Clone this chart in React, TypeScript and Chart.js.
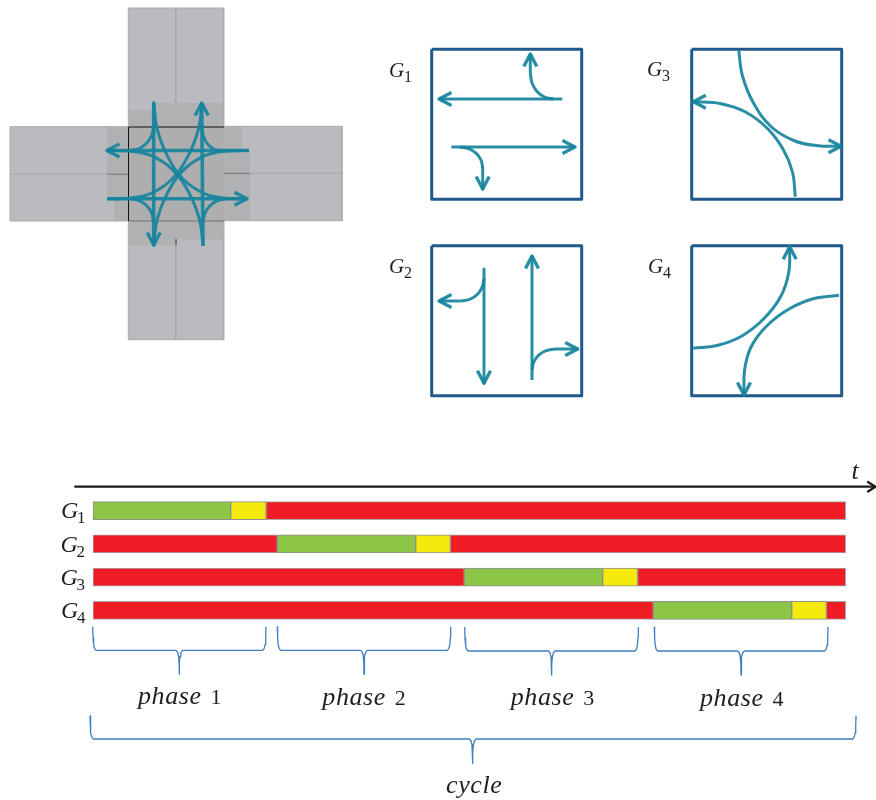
import React, { useEffect, useRef } from "react";
import { Chart, registerables } from "chart.js";

Chart.register(...registerables);

type P = [number, number];

// ---- junction layout (values on the 876 x 800 drawing scale) ----
const armRects: [number, number, number, number][] = [
  [128.3, 8, 223.7, 127],
  [128.3, 221, 223.7, 339.7],
  [10, 126.7, 128.5, 221],
  [224, 126.3, 342, 220.7],
];
const patchRects: [number, number, number, number][] = [
  [129, 110, 155, 127],
  [155, 103, 223, 127],
  [107, 127, 128.5, 198],
  [114, 198, 128.5, 221],
  [224, 127, 242, 153],
  [224, 153, 250, 220.7],
  [129, 221, 176, 245.5],
  [176, 221, 223.5, 239.5],
];
const centreRect: [number, number, number, number] = [128.5, 127, 224, 221];
const laneLines: P[][] = [
  [[175.8, 8], [175.8, 103]],
  [[175.8, 245], [175.8, 339.7]],
  [[10, 174.2], [107, 174.2]],
  [[250, 173.3], [342, 173.3]],
];
const darkMarks: P[][] = [
  [[107, 174.2], [128.5, 174.2]],
  [[224, 173.3], [250, 173.3]],
  [[176, 239], [176, 245]],
  [[128.5, 221], [224, 221]],
];
const blackEdges: P[][] = [
  [[128.5, 221], [128.5, 127], [224, 127]],
];

const junctionStraight: P[][] = [
  [[249, 150.5], [107, 150.5]],
  [[107, 198.7], [247, 198.7]],
  [[153.7, 103], [153.7, 245]],
  [[203, 246], [201.7, 103]],
];
const junctionTurns: P[][] = [
  [[220, 150.7], [213, 148.7], [207, 143.2], [203.1, 134.8], [201.7, 125]],
  [[130, 150.5], [139.1, 148.6], [146.8, 143], [151.9, 134.8], [153.7, 125]],
  [[130, 198.7], [139.1, 200.6], [146.8, 205.8], [151.9, 213.7], [153.7, 223]],
  [[203, 222.7], [204.8, 213.5], [209.9, 205.7], [217.6, 200.5], [226.7, 198.7]],
];
// sweeping curves: start (leaving vertically) and end (arriving horizontally)
const junctionSweeps: [P, P][] = [
  [[153.7, 103], [247, 198.7]],
  [[203, 245], [107, 150.5]],
  [[202, 103], [107, 198.7]],
  [[153.7, 245], [249, 150.5]],
];
const sweepAlongX = [0, 0.037, 0.145, 0.32, 0.55, 0.77, 1];
const sweepAlongY = [0, 0.27, 0.55, 0.8, 0.95, 0.994, 1];
const junctionHeads: [number, number, number, number][] = [
  [107, 150.5, -1, 0],
  [247, 198.7, 1, 0],
  [153.7, 245, 0, 1],
  [201.7, 103, 0, -1],
];

// ---- phase panels ----
const panelBoxes: [number, number, number, number][] = [
  [431.7, 49.3, 581.7, 199.3],
  [691.7, 49.3, 841.7, 199.3],
  [431.7, 245.7, 581.7, 395.7],
  [691.7, 245.7, 841.7, 395.7],
];
const panelStraight: P[][] = [
  [[562.3, 99], [439, 99]],
  [[451.3, 147], [575, 147]],
  [[530.3, 73], [530.3, 54]],
  [[482.7, 168], [482.7, 189]],
  [[484, 269], [484, 383.3]],
  [[532, 380], [532, 256]],
  [[461.7, 301], [439, 301]],
  [[555, 349], [577.7, 349]],
];
const panelTurns: P[][] = [
  [[553.3, 99], [544.5, 97], [537, 91.4], [532.05, 83], [530.3, 73]],
  [[460, 147], [468.7, 148.6], [476, 153.2], [481, 160], [482.7, 168]],
  [[484, 278], [482.3, 286.8], [477.5, 294.3], [470.2, 299.2], [461.7, 301]],
  [[532, 370], [533.8, 362], [538.7, 355.2], [546.2, 350.6], [555, 349]],
];
const panelSweeps: P[][] = [
  [[738.7, 50], [742.5, 76], [753.5, 103], [771.5, 127], [795, 141], [818, 145.7], [841, 146.3]],
  [[795.3, 196.7], [792.5, 172], [783.5, 150], [768, 129], [745.5, 112], [720, 103.5], [693.3, 101.7]],
  [[789.7, 246.7], [788.8, 272], [781, 296], [764, 318.5], [741, 336.5], [717, 345.5], [693.3, 348.3]],
  [[744, 395], [744.6, 370], [751, 347], [766.7, 326], [789, 309], [814, 298.5], [839, 295.3]],
];
const panelHeads: [number, number, number, number][] = [
  [439, 99, -1, 0],
  [575, 147, 1, 0],
  [530.3, 54, 0, -1],
  [482.7, 189, 0, 1],
  [484, 383.3, 0, 1],
  [532, 256, 0, -1],
  [439, 301, -1, 0],
  [577.7, 349, 1, 0],
  [841, 146.3, 1, 0],
  [693.3, 101.7, -1, 0],
  [789.7, 246.7, 0, -1],
  [744, 395, 0, 1],
];

// ---- time axis ----
const timeAxis: P[] = [[74.3, 486.7], [875, 486.7]];
const timeHead: P[] = [[867.3, 481.5], [875.5, 486.7], [867.3, 492]];

// ---- signal timeline ----
const signalGroups = ["G1", "G2", "G3", "G4"];
const greenSpans: [number, number][] = [[93, 230.7], [277.3, 415.7], [464.3, 602.7], [653.3, 791.7]];
const yellowSpans: [number, number][] = [[230.7, 266], [415.7, 450.3], [602.7, 637.7], [791.7, 826.3]];
const redBefore: ([number, number] | null)[] = [null, [93, 277.3], [93, 464.3], [93, 653.3]];
const redAfter: [number, number][] = [[266, 845.7], [450.3, 845.7], [637.7, 845.7], [826.3, 845.7]];

// ---- braces: left, right, stem x, top, bar y, stem end ----
const braceSpans: [number, number, number, number, number, number][] = [
  [92.7, 266, 179.3, 626.7, 650.3, 674.3],
  [277.3, 450.7, 364, 626.7, 650.3, 674.3],
  [464.7, 638.3, 551.7, 627, 651, 675],
  [654.3, 828, 741, 627, 651, 675],
  [90, 856, 472.7, 715.7, 739, 763.3],
];

// ---- text ----
const phaseWord = "phase";
const phaseNumbers = ["1", "2", "3", "4"];
const phaseAnchors: P[] = [[138, 704], [322.3, 705], [510.7, 705], [700, 705.5]];
const cycleWord = "cycle";
const cycleAnchor: P = [446, 792.5];
const timeWord = "t";
const timeAnchor: P = [851.5, 479];
const panelLabelAnchors: P[] = [[389, 77], [389, 273], [647, 76], [648, 273]];
const timelineLabelAnchors: P[] = [[61, 518], [60.5, 551.5], [60.5, 585], [61, 617.5]];

const TEAL = "rgba(24,132,158,0.93)";
const NAVY = "#205a8c";
const BRACE = "#3f7fc0";
const SERIF = '"Liberation Serif"';

function rectPath(r: [number, number, number, number]): P[] {
  const [a, b, c, d] = r;
  return [[a, b], [c, b], [c, d], [a, d], [a, b]];
}
function headPath(h: [number, number, number, number]): P[] {
  const [x, y, dx, dy] = h;
  const back = 12.5;
  const half = 6.5;
  return [
    [x - dx * back - dy * half, y - dy * back - dx * half],
    [x, y],
    [x - dx * back + dy * half, y - dy * back + dx * half],
  ];
}
function sweepPath([s, e]: [P, P]): P[] {
  return sweepAlongX.map((u, i) => [
    s[0] + (e[0] - s[0]) * u,
    s[1] + (e[1] - s[1]) * sweepAlongY[i],
  ]);
}
function bracePath(b: [number, number, number, number, number, number]): P[] {
  const [l, r, m, top, bar, end] = b;
  const span = bar - top;
  return [
    [l, top], [l + 0.3, top + span * 0.45], [l + 0.9, top + span * 0.75], [l + 1.8, top + span * 0.92], [l + 3.4, bar],
    [m - 3.3, bar], [m - 1.6, bar + 2], [m - 0.7, bar + 6], [m - 0.2, bar + 13], [m, end],
    [m + 0.2, bar + 13], [m + 0.7, bar + 6], [m + 1.6, bar + 2], [m + 3.3, bar],
    [r - 3.4, bar], [r - 1.8, top + span * 0.92], [r - 0.9, top + span * 0.75], [r - 0.3, top + span * 0.45], [r, top],
  ];
}
function line(points: P[], color: string, width: number, tension = 0) {
  return {
    type: "scatter",
    data: points.map(([x, y]) => ({ x, y })),
    showLine: true,
    borderColor: color,
    borderWidth: width,
    tension,
    pointRadius: 0,
    pointHoverRadius: 0,
    fill: false,
    borderCapStyle: "butt",
    borderJoinStyle: "round",
    clip: false,
  };
}
function area(points: P[], color: string, edge = color, edgeWidth = 0) {
  return {
    type: "scatter",
    data: points.map(([x, y]) => ({ x, y })),
    showLine: true,
    borderWidth: edgeWidth,
    borderColor: edge,
    backgroundColor: color,
    tension: 0,
    pointRadius: 0,
    pointHoverRadius: 0,
    fill: "shape",
    clip: false,
  };
}

const textPlugin = {
  id: "diagramText",
  afterDatasetsDraw(chart: any) {
    const { ctx, scales } = chart;
    const px = (v: number) => scales.x.getPixelForValue(v);
    const py = (v: number) => scales.y.getPixelForValue(v);
    const put = (s: string, a: P, font: string, spacing = "0px") => {
      ctx.font = font;
      (ctx as any).letterSpacing = spacing;
      ctx.fillText(s, px(a[0]), py(a[1]));
    };
    ctx.save();
    ctx.fillStyle = "#1f1f1f";
    ctx.textAlign = "left";
    ctx.textBaseline = "alphabetic";
    phaseAnchors.forEach((a, i) => {
      put(phaseWord, a, `italic 26px ${SERIF}`, "0.6px");
      put(phaseNumbers[i], [a[0] + 72.5, a[1]], `22px ${SERIF}`);
    });
    put(cycleWord, cycleAnchor, `italic 26px ${SERIF}`, "0.6px");
    put(timeWord, timeAnchor, `italic 26px ${SERIF}`);
    panelLabelAnchors.forEach((a, i) => {
      put("G", a, `italic 21px ${SERIF}`);
      put(String(i + 1), [a[0] + 15, a[1] + 5], `16px ${SERIF}`);
    });
    timelineLabelAnchors.forEach((a, i) => {
      put("G", a, `italic 24px ${SERIF}`);
      put(String(i + 1), [a[0] + 16, a[1] + 5], `17px ${SERIF}`);
    });
    ctx.restore();
  },
};

export default function App() {
  const mainRef = useRef<HTMLCanvasElement>(null);
  const ganttRef = useRef<HTMLCanvasElement>(null);

  useEffect(() => {
    document.body.style.margin = "0";
    const back: any[] = [
      ...armRects.map((r) => area(rectPath(r), "#babbbf", "#a9aaad", 1)),
      ...patchRects.map((r) => area(rectPath(r), "#b0b1b3")),
      area(rectPath(centreRect), "#aeaeaf"),
      ...laneLines.map((p) => line(p, "#a6a7aa", 1)),
      ...darkMarks.map((p) => line(p, "#727272", 1)),
      ...blackEdges.map((p) => line(p, "#111111", 1)),
      ...junctionStraight.map((p) => line(p, TEAL, 3.6)),
      ...junctionTurns.map((p) => line(p, TEAL, 3, 0.4)),
      ...junctionSweeps.map((s) => line(sweepPath(s), TEAL, 3, 0.4)),
      ...junctionHeads.map((h) => line(headPath(h), TEAL, 3.4)),
      ...panelBoxes.map((r) => line(rectPath(r), NAVY, 3)),
      ...panelStraight.map((p) => line(p, TEAL, 3)),
      ...panelTurns.map((p) => line(p, TEAL, 3, 0.4)),
      ...panelSweeps.map((p) => line(p, TEAL, 3, 0.4)),
      ...panelHeads.map((h) => line(headPath(h), TEAL, 3.4)),
      line(timeAxis, "#1a1a1a", 2.2),
      line(timeHead, "#1a1a1a", 2.2),
      ...braceSpans.map((b) => line(bracePath(b), BRACE, 1.3)),
    ];
    const main = new Chart(mainRef.current!, {
      type: "scatter",
      data: { datasets: back.reverse() },
      options: {
        animation: false,
        responsive: false,
        layout: { padding: 0 },
        events: [],
        plugins: { legend: { display: false }, tooltip: { enabled: false } },
        scales: {
          x: { type: "linear", display: false, min: 0, max: 876 },
          y: { type: "linear", display: false, min: 0, max: 800, reverse: true },
        },
      },
      plugins: [textPlugin],
    } as any);

    const bar = (data: any[], color: string, edge: string) => ({
      data,
      backgroundColor: color,
      borderColor: edge,
      borderWidth: 1,
      borderSkipped: false,
      barThickness: 18,
      grouped: false,
    });
    const gantt = new Chart(ganttRef.current!, {
      type: "bar",
      data: {
        labels: signalGroups,
        datasets: [
          bar(greenSpans, "#8dc647", "#8f8f8f"),
          bar(yellowSpans, "#f4ea0c", "#8f8f8f"),
          bar(redBefore, "#ee1c25", "#a8a8a8"),
          bar(redAfter, "#ee1c25", "#a8a8a8"),
        ],
      },
      options: {
        indexAxis: "y",
        animation: false,
        responsive: false,
        layout: { padding: 0 },
        events: [],
        plugins: { legend: { display: false }, tooltip: { enabled: false } },
        scales: {
          x: { type: "linear", display: false, min: 0, max: 876 },
          y: { type: "category", display: false },
        },
      },
    } as any);
    return () => {
      main.destroy();
      gantt.destroy();
    };
  }, []);

  return (
    <div style={{ position: "relative", width: 876, height: 800, background: "#fff" }}>
      <canvas ref={mainRef} width={876} height={800} style={{ position: "absolute", left: 0, top: 0 }} />
      <canvas ref={ganttRef} width={876} height={133} style={{ position: "absolute", left: 0, top: 494 }} />
    </div>
  );
}
